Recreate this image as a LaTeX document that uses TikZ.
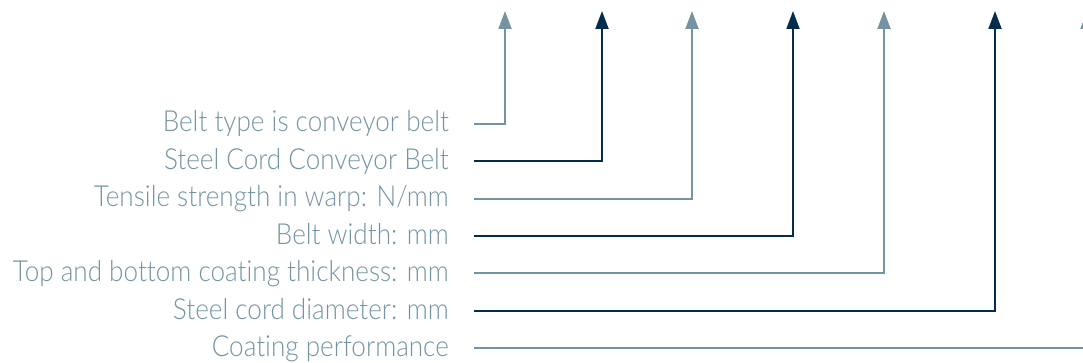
\documentclass[tikz,border=0pt]{standalone}
\usepackage{fontspec}
\setmainfont{Lato}[UprightFont=* Light, FakeStretch=0.9, Ligatures=NoCommon]
\usepackage{xcolor}
\usepackage{tikz}
\usetikzlibrary{calc,positioning,arrows.meta}
\definecolor{paleColor}{RGB}{116, 148, 163}
\definecolor{navyColor}{RGB}{4, 45, 77}

\tikzset{
    label/.style={anchor=east, inner sep=0pt, text height=17pt, text depth=1pt, text=paleColor, font=\fontsize{29}{33}\selectfont},
    paleline/.style={draw=paleColor, line width=2pt, -{Triangle[length=18pt, width=13pt]}},
    navyline/.style={draw=navyColor, line width=2pt, -{Triangle[length=18pt, width=13pt]}}
}

\begin{document}
\begin{tikzpicture}[x=1pt, y=-1pt]
            \useasboundingbox (0,0) rectangle (1083,363);
            \clip (0,0) rectangle (1083,363);

            % Labels
            \node[label] (type) at (449,124) {Belt type is conveyor belt};
            \node[label] (cord) at (449,161.5) {Steel Cord Conveyor Belt};
            \node[label] (tensile) at (449,199) {Tensile strength in warp: N/mm};
            \node[label] (width) at (449,236) {Belt width: mm};
            \node[label] (coating) at (449,273) {Top and bottom coating thickness: mm};
            \node[label] (diameter) at (449,311) {Steel cord diameter: mm};
            \node[label] (perf) at (449,348) {Coating performance};

            % Arrow tips
            \coordinate (typeTip) at (505,11);
            \coordinate (cordTip) at (602,11);
            \coordinate (tensileTip) at (692,11);
            \coordinate (widthTip) at (793,11);
            \coordinate (coatingTip) at (884,11);
            \coordinate (diameterTip) at (995,11);
            \coordinate (perfTip) at (1087,11);

            % Connectors
            \draw[paleline] ([xshift=25pt]type.east) -| (typeTip);
            \draw[navyline] ([xshift=25pt]cord.east) -| (cordTip);
            \draw[paleline] ([xshift=25pt]tensile.east) -| (tensileTip);
            \draw[navyline] ([xshift=25pt]width.east) -| (widthTip);
            \draw[paleline] ([xshift=25pt]coating.east) -| (coatingTip);
            \draw[navyline] ([xshift=25pt]diameter.east) -| (diameterTip);
            \draw[paleline] ([xshift=25pt]perf.east) -| (perfTip);
        \end{tikzpicture}
\end{document}
